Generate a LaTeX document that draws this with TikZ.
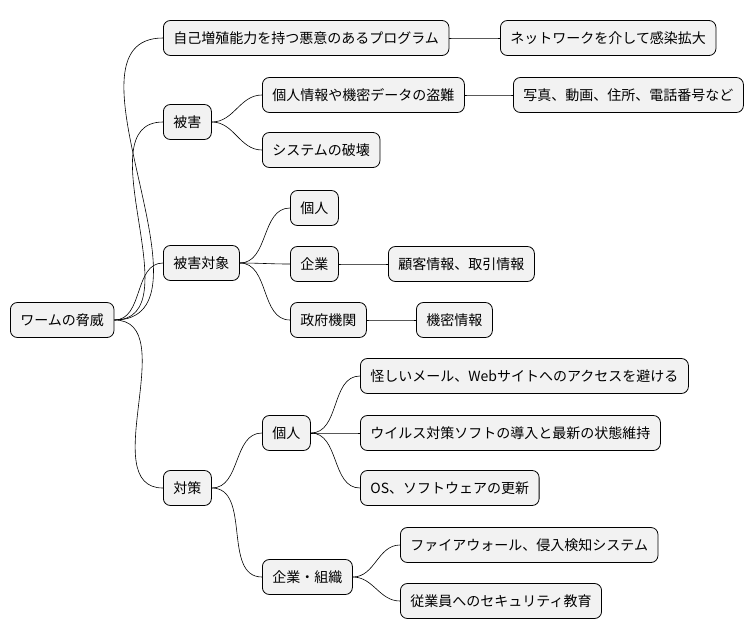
\documentclass[tikz,border=0pt]{standalone}
\usepackage{fontspec}
\setmainfont{Noto Sans CJK JP}
\begin{document}
\begin{tikzpicture}[x=1pt, y=-1pt,
    topic/.style={draw, line width=0.8pt, rounded corners=7pt, fill=gray!10, minimum height=35pt,
        inner xsep=10pt, anchor=west, font=\fontsize{14}{16}\selectfont},
    link/.style={line width=0.6pt, black}]
    \useasboundingbox (0,0) rectangle (754,640);
    % root and first level
    \node[topic] (root) at (10,320) {ワームの脅威};
    \node[topic] (prog) at (163,38) {自己増殖能力を持つ悪意のあるプログラム};
    \node[topic] (dmg) at (163,122) {被害};
    \node[topic] (tgt) at (163,263) {被害対象};
    \node[topic] (cm) at (163,488) {対策};
    % second level
    \node[topic] (net) at (500,38) {ネットワークを介して感染拡大};
    \node[topic] (theft) at (262,95) {個人情報や機密データの盗難};
    \node[topic] (photo) at (513,95) {写真、動画、住所、電話番号など};
    \node[topic] (sys) at (262,150) {システムの破壊};
    \node[topic] (tind) at (290,208) {個人};
    \node[topic] (tcorp) at (290,264) {企業};
    \node[topic] (cust) at (388,264) {顧客情報、取引情報};
    \node[topic] (gov) at (290,320) {政府機関};
    \node[topic] (secret) at (416,320) {機密情報};
    \node[topic] (cind) at (262,433) {個人};
    \node[topic] (mail) at (360,376) {怪しいメール、Webサイトへのアクセスを避ける};
    \node[topic] (av) at (360,433) {ウイルス対策ソフトの導入と最新の状態維持};
    \node[topic] (os) at (360,488) {OS、ソフトウェアの更新};
    \node[topic] (corg) at (262,577) {企業・組織};
    \node[topic] (fw) at (400,545) {ファイアウォール、侵入検知システム};
    \node[topic] (edu) at (400,601) {従業員へのセキュリティ教育};
    % connectors
    \foreach \a/\b in {root/prog, root/dmg, root/tgt, root/cm, prog/net,
        dmg/theft, dmg/sys, theft/photo, tgt/tind, tgt/tcorp, tgt/gov,
        tcorp/cust, gov/secret, cm/cind, cm/corg, cind/mail, cind/av,
        cind/os, corg/fw, corg/edu} {
        \draw[link] (\a.east) to[out=0, in=180] (\b.west);
    }
\end{tikzpicture}
\end{document}
